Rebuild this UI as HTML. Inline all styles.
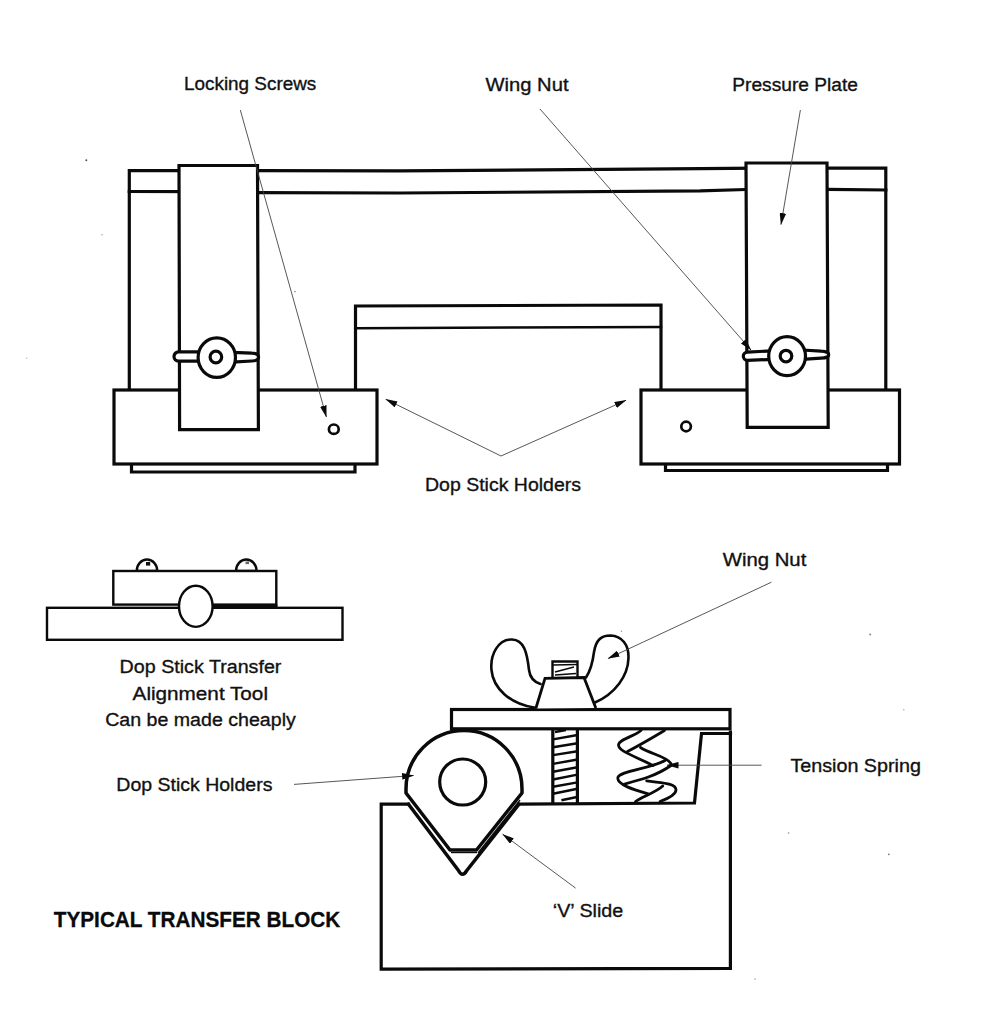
<!DOCTYPE html>
<html>
<head>
<meta charset="utf-8">
<style>
html,body{margin:0;padding:0;background:#fff;}
body{width:987px;height:1024px;overflow:hidden;position:relative;font-family:"Liberation Sans",sans-serif;}
svg{position:absolute;left:0;top:0;}
.m{fill:none;stroke:#0a0a0a;stroke-width:3.2;stroke-linejoin:miter;stroke-linecap:square;}
.w{fill:#fff;stroke:#0a0a0a;stroke-width:3.2;stroke-linejoin:miter;}
.r{fill:none;stroke:#0a0a0a;stroke-width:3;stroke-linejoin:round;stroke-linecap:round;}
.a{fill:none;stroke:#444;stroke-width:0.9;}
.t{font-family:"Liberation Sans",sans-serif;font-size:19.2px;fill:#111;stroke:#111;stroke-width:0.35;}
.b{font-family:"Liberation Sans",sans-serif;font-size:22.3px;font-weight:bold;fill:#0a0a0a;stroke:#0a0a0a;stroke-width:0.3;}
</style>
</head>
<body>
<svg width="987" height="1024" viewBox="0 0 987 1024">
<defs>
<marker id="ah" viewBox="0 0 12 6.6" refX="11.5" refY="3.3" markerWidth="12" markerHeight="6.6" markerUnits="userSpaceOnUse" orient="auto">
<path d="M0,0 L12,3.3 L0,6.6 Z" fill="#0a0a0a"/>
</marker>
</defs>
<rect x="0" y="0" width="987" height="1024" fill="#fff"/>

<!-- scan specks -->
<g id="specks">
<circle cx="86.3" cy="160.2" r="1" fill="#555"/>
<circle cx="102" cy="234.8" r="0.8" fill="#aaa"/>
<circle cx="295" cy="291.6" r="0.8" fill="#888"/>
<circle cx="26.8" cy="358.2" r="0.7" fill="#bbb"/>
<circle cx="870.2" cy="634.5" r="1" fill="#888"/>
<circle cx="903.8" cy="709.8" r="0.8" fill="#aaa"/>
<circle cx="888.9" cy="854.3" r="0.9" fill="#777"/>
<circle cx="788.6" cy="833" r="0.8" fill="#888"/>
<circle cx="621.4" cy="631.2" r="0.8" fill="#999"/>
<circle cx="755.1" cy="979" r="0.8" fill="#999"/>
</g>
<!-- ===== TOP ASSEMBLY ===== -->
<g id="top">
<!-- outer frame -->
<path class="m" d="M129.3,390 L129.3,170.6 L400,170.8 L700,168.7 L760,168.2 L885.8,168.2 L885.8,390"/>
<path class="m" d="M129.3,191.5 L200,191.6 L258,192.7 L400,193 L700,190.9 L746,189.5 L827,189.4 L885.8,190"/>
<!-- inner bracket -->
<path class="m" d="M355.5,390 L355.5,306 L661,305 L661,390"/>
<path class="m" style="stroke-width:2.5" d="M355.5,328.2 L661,327"/>
<!-- lower plates -->
<path class="m" d="M131.5,464 L131.5,472 L355,472 L355,464"/>
<path class="m" d="M665.5,464 L665.5,470.5 L887.5,470.5 L887.5,464"/>
<!-- base blocks -->
<rect class="w" x="114" y="390" width="263" height="74"/>
<rect class="w" x="641" y="390" width="258.5" height="74"/>
<!-- pressure plates -->
<path class="w" d="M179,165.5 L257.5,165.5 L258.4,429.7 L179.6,429.7 Z"/>
<path class="w" d="M746,163 L827,163 L828.2,427.3 L747.2,427.3 Z"/>
<!-- left wing nut -->
<path class="w" style="stroke-linejoin:round" d="M200,351.9 L178.6,351.9 A4.6,4.6 0 0 0 178.6,361.1 L200,361.1 Z"/>
<path class="w" style="stroke-linejoin:round" d="M232,352.3 L252,353.2 C260.8,353.4 260.8,360.8 252,361 L232,362.2 Z"/>
<ellipse class="w" cx="216.8" cy="357.6" rx="18.7" ry="19.7"/>
<circle class="w" cx="215.9" cy="357" r="5.8"/>
<!-- right wing nut -->
<path class="w" style="stroke-linejoin:round" d="M772,350.8 L747.4,352.2 A4.1,4.1 0 0 0 747.4,360.4 L772,359.4 Z"/>
<path class="w" style="stroke-linejoin:round" d="M802,350 L821,351.2 C831.3,351.4 831.3,357.9 821,358.1 L802,359.4 Z"/>
<ellipse class="w" cx="787.1" cy="356.1" rx="18.4" ry="19.5"/>
<circle class="w" cx="786" cy="356.1" r="5.8"/>
<!-- locking screw holes -->
<ellipse class="w" cx="333.8" cy="429.2" rx="4.9" ry="4.7" style="stroke-width:2.7"/>
<ellipse class="w" cx="686.1" cy="426.5" rx="4.8" ry="4.8" style="stroke-width:2.7"/>
</g>

<!-- ===== ALIGNMENT TOOL ===== -->
<g id="align" style="stroke-width:2.4">
<path class="w" d="M136.7,571 A10.3,11.5 0 0 1 157.3,571 Z" style="stroke-width:2.4"/>
<path class="w" d="M236,571 A10.3,11.5 0 0 1 256.6,571 Z" style="stroke-width:2.4"/>
<rect x="146" y="562" width="4.2" height="3.6" fill="#111"/>
<rect x="245.5" y="561.5" width="3.5" height="2.6" fill="#666"/>
<rect class="w" x="47" y="607.8" width="295.5" height="32" style="stroke-width:2.4"/>
<rect class="w" x="113.3" y="571" width="163" height="33.6" style="stroke-width:2.4"/>
<path d="M213,606.6 L277.5,606.6" stroke="#0a0a0a" stroke-width="4" fill="none"/>
<ellipse class="w" cx="195.8" cy="606.3" rx="16.8" ry="20.6" style="stroke-width:2.4"/>
</g>

<!-- ===== TRANSFER BLOCK ===== -->
<g id="block">
<!-- main block outline -->
<path class="m" d="M408.5,804.2 L381.2,804.2 L381.2,969.2 L730.4,968.4 L730.4,732"/>
<!-- V groove -->
<path class="r" style="stroke-width:3.5" d="M408.5,804.2 L458.5,870.5 Q462.3,878 466.8,870.5 L519,804.2"/>
<!-- step top, angled wall, ledge -->
<path class="m" d="M519,804.2 L694.5,803 L701.5,733.5 L730.5,733.5"/>
<!-- screw -->
<path class="m" d="M552.8,729 L552.8,803 M577.4,729 L577.4,803"/>
<path class="m" style="stroke-width:2.4;stroke-linecap:butt" d="M553,739.4 L577.5,735 M553,747.3 L577.5,743.3 M553,755.1 L577.5,751.2 M553,763.9 L577.5,759.5 M553,771.7 L577.5,767.3 M553,779.5 L577.5,774.6 M553,786.8 L577.5,782.4 M553,793.7 L577.5,788.8 M561.4,800.2 L577,797 M555,732 L566,730"/>
<!-- spring -->
<g fill="none" stroke="#0a0a0a" stroke-width="2.8" stroke-linecap="round" stroke-linejoin="round">
<path d="M641,730.5 C633,737 618.5,739.5 618.5,745 C618.5,751 632,755 653,765.5"/>
<path d="M664.5,730.5 C652,738 640,745 627.5,751.5"/>
<path d="M640.5,747.5 C650,754 666,756 671,763.5"/>
<path d="M665,760.5 C650,769 618.5,771 617.8,778 C617.2,785 635,790 648.6,794"/>
<path d="M671,765.5 C656,776 640,780 624.5,784"/>
<path d="M646.6,780.8 C660,783 676,782.5 676,790 C676,795 668,798.5 660,801.5"/>
<path d="M662.8,786 C655,793 642,796.5 635.5,801.5"/>
</g>
<!-- holder -->
<path class="w" style="stroke-linejoin:round;stroke-width:3.5" d="M406,793 L406,789 A58,58.5 0 0 1 522,789 L522,793 L476.5,850 L450,850 Z"/>
<path class="m" style="stroke-width:1.2;stroke-linecap:butt" d="M451,852.6 L477,852.6"/>
<path class="m" style="stroke-width:1.3;stroke-linecap:butt" d="M478,853 L520,800"/>
<circle class="w" cx="462.7" cy="782" r="23"/>
<!-- top plate -->
<rect class="w" x="451.5" y="709.5" width="278.5" height="19.3"/>
<!-- wing nut -->
<path class="r" style="stroke-width:2.6" d="M540.5,684 C534,682 530,678 529,670 C527,652 524,640 512,639.5 C498,639 490,655 491.5,670 C493,688 510,704 534,707.5"/>
<path class="r" style="stroke-width:2.6" d="M586,677.5 C591,670 593,660 594,652 C596,640 601,635.5 610.5,635.5 C622,636 629,645 628.5,658 C628,676 615,694 595,702.5"/>
<path class="w" style="stroke-width:2.8" d="M535.8,708.5 L545,678.3 L584,677.5 L595.8,708"/>
<path class="m" style="stroke-width:2.4" d="M552.5,677.5 L552.5,661.5 L577.5,661.5 L577.5,677.5"/>
<path class="m" style="stroke-width:1.6;stroke-linecap:butt" d="M553,665 L577,664.5 M555,672 L574,667 M555,675 L576,673.5"/>
</g>

<!-- ===== ARROWS ===== -->
<g id="arrows">
<line class="a" x1="240.3" y1="110" x2="326.4" y2="417" marker-end="url(#ah)"/>
<line class="a" x1="540" y1="109" x2="751" y2="350" marker-end="url(#ah)"/>
<line class="a" x1="800.4" y1="110" x2="781" y2="224.5" marker-end="url(#ah)"/>
<line class="a" x1="501" y1="456" x2="385.8" y2="399.3" marker-end="url(#ah)"/>
<line class="a" x1="501" y1="456" x2="626" y2="400.3" marker-end="url(#ah)"/>
<line class="a" x1="771.4" y1="582.2" x2="608" y2="658.5" marker-end="url(#ah)"/>
<line class="a" x1="761.6" y1="765.2" x2="667" y2="765.2" marker-end="url(#ah)"/>
<line class="a" x1="294" y1="784.4" x2="413.6" y2="775.5" marker-end="url(#ah)"/>
<line class="a" x1="575.6" y1="888.1" x2="502.7" y2="834.2" marker-end="url(#ah)"/>
</g>

<!-- ===== TEXT ===== -->
<g id="text">
<text class="t" x="184" y="90.4" textLength="132.3" lengthAdjust="spacingAndGlyphs">Locking Screws</text>
<text class="t" x="485.5" y="90.8" textLength="83" lengthAdjust="spacingAndGlyphs">Wing Nut</text>
<text class="t" x="732.3" y="90.8" textLength="125.6" lengthAdjust="spacingAndGlyphs">Pressure Plate</text>
<text class="t" x="425" y="491.4" textLength="156" lengthAdjust="spacingAndGlyphs">Dop Stick Holders</text>
<text class="t" x="119.6" y="672.7" textLength="161.8" lengthAdjust="spacingAndGlyphs">Dop Stick Transfer</text>
<text class="t" x="132.6" y="699.5" textLength="135.4" lengthAdjust="spacingAndGlyphs">Alignment Tool</text>
<text class="t" x="105.2" y="726.2" textLength="190.6" lengthAdjust="spacingAndGlyphs">Can be made cheaply</text>
<text class="t" x="116.3" y="790.9" textLength="156.1" lengthAdjust="spacingAndGlyphs">Dop Stick Holders</text>
<text class="t" x="722.8" y="566.1" textLength="83.5" lengthAdjust="spacingAndGlyphs">Wing Nut</text>
<text class="t" x="790.4" y="772.1" textLength="130.5" lengthAdjust="spacingAndGlyphs">Tension Spring</text>
<text class="t" x="552.8" y="916.5" textLength="70.5" lengthAdjust="spacingAndGlyphs">‘V’ Slide</text>
<text class="b" x="53.8" y="927.3" textLength="286.4" lengthAdjust="spacingAndGlyphs">TYPICAL TRANSFER BLOCK</text>
</g>
</svg>
</body>
</html>
